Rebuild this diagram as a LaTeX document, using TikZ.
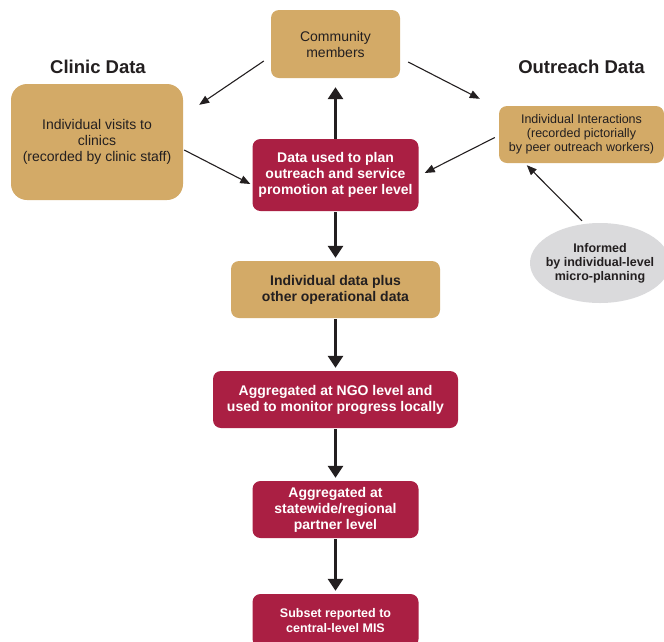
\documentclass[tikz,border=0pt]{standalone}
\usepackage{fontspec}
\setmainfont{Liberation Sans}
\usetikzlibrary{arrows.meta, shapes.geometric}

\definecolor{tan}{HTML}{D3AA67}
\definecolor{wine}{HTML}{AA1F43}
\definecolor{mist}{HTML}{DADADC}
\definecolor{ink}{HTML}{231F20}

\tikzset{
    tanbox/.style={fill=tan, rounded corners=8pt, align=center, text=ink, inner sep=0pt,
        font=\fontsize{14}{16}\selectfont},
    winebox/.style={fill=wine, rounded corners=8pt, align=center, text=white, inner sep=0pt,
        font=\fontsize{14}{16}\selectfont\bfseries},
    heading/.style={text=ink, font=\fontsize{18.5}{22}\selectfont\bfseries},
    thinarrow/.style={draw=ink, line width=1.1pt, -{Triangle[width=8pt,length=10pt]}},
    thickarrow/.style={draw=ink, line width=3.5pt, -{Triangle[width=15pt,length=12pt]},
        shorten <=1pt, shorten >=3pt}
}

\begin{document}
\begin{tikzpicture}[x=1pt, y=-1pt]
        \useasboundingbox (0, 0) rectangle (664, 641);

        \node (clinictitle) at (98, 67) [heading] {Clinic Data};
        \node (outtitle) at (581.5, 67) [heading] {Outreach Data};

        \node (comm) at (335.5, 44) [tanbox, minimum width=129pt, minimum height=68pt] {Community\\members};
        \node (clinic) at (97, 142) [tanbox, rounded corners=16pt, minimum width=172pt, minimum height=116pt]
            {Individual visits to\\clinics\\(recorded by clinic staff)};
        \node (data) at (335.5, 175) [winebox, minimum width=166pt, minimum height=72pt]
            {Data used to plan\\outreach and service\\promotion at peer level};
        \node (inter) at (581.5, 134.5) [tanbox, font=\fontsize{12.5}{14}\selectfont, minimum width=165pt, minimum height=57pt]
            {Individual Interactions\\(recorded pictorially\\by peer outreach workers)};
        \node (micro) at (600, 263) [ellipse, fill=mist, text=ink, align=center, inner xsep=-5pt, inner ysep=0pt,
            font=\fontsize{12.5}{14}\selectfont\bfseries, minimum width=140pt, minimum height=80pt]
            {Informed\\by individual-level\\micro-planning};

        \node (indiv) at (335.5, 289.5) [tanbox, font=\fontsize{14}{16}\selectfont\bfseries, minimum width=209pt, minimum height=57pt]
            {Individual data plus\\other operational data};
        \node (ngo) at (335.5, 399.5) [winebox, minimum width=245pt, minimum height=57pt]
            {Aggregated at NGO level and\\used to monitor progress locally};
        \node (state) at (335.5, 509.5) [winebox, minimum width=166pt, minimum height=57pt]
            {Aggregated at\\statewide/regional\\partner level};
        \node (subset) at (335.5, 620.5) [winebox, font=\fontsize{12.5}{15}\selectfont\bfseries, minimum width=166pt, minimum height=53pt]
            {Subset reported to\\central-level MIS};

        \draw[thinarrow] ([shift={(-7, 17)}]comm.west) -- ([shift={(16, 21)}]clinic.north east);
        \draw[thinarrow] ([shift={(8, 18)}]comm.east) -- ([shift={(-19, -7)}]inter.north west);
        \draw[thinarrow] ([shift={(1, 8)}]clinic.east) -- ([shift={(-2, 9)}]data.west);
        \draw[thinarrow] ([shift={(-4, 3)}]inter.west) -- ([shift={(6, -2)}]data.east);
        \draw[thinarrow] ([shift={(-18, -2)}]micro.north) -- ([shift={(28, 2)}]inter.south west);

        \draw[thickarrow, shorten <=0pt, shorten >=9pt] (data) -- (comm);
        \draw[thickarrow] (data) -- (indiv);
        \draw[thickarrow] (indiv) -- (ngo);
        \draw[thickarrow] (ngo) -- (state);
        \draw[thickarrow] (state) -- (subset);
\end{tikzpicture}
\end{document}
